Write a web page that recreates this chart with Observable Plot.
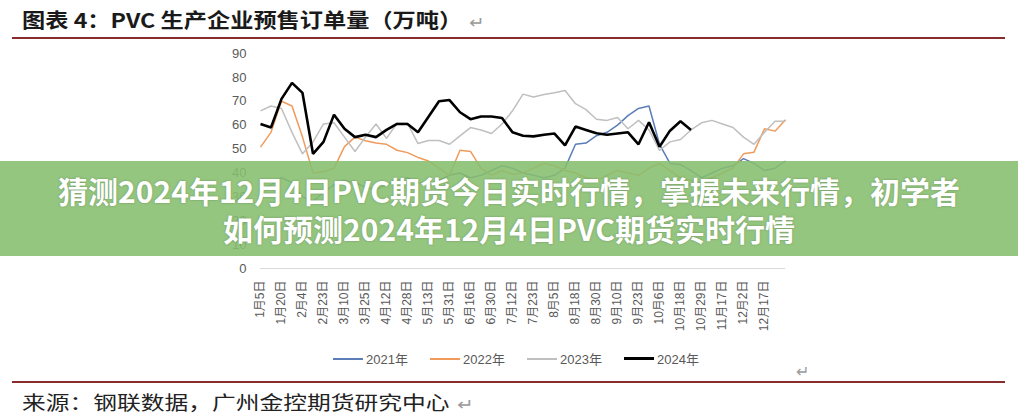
<!DOCTYPE html>
<html><head><meta charset="utf-8">
<script src="https://cdn.jsdelivr.net/npm/d3@7"></script>
<script src="https://cdn.jsdelivr.net/npm/@observablehq/plot@0.6"></script>
<style>
body{margin:0;width:1018px;height:418px;position:relative;overflow:hidden;background:#fff;font-family:"Liberation Sans","Noto Sans CJK SC",sans-serif;}
#title{position:absolute;left:22px;top:5px;font-family:"Noto Sans CJK SC";font-weight:700;font-size:20px;color:#1a1a1a;white-space:nowrap;transform:scaleX(1.16);transform-origin:left center;}
.pm{color:#9a9a9a;font-weight:400;font-size:16px;margin-left:6px;}
.rule{position:absolute;left:12px;width:993px;height:2px;background:#8a2c2c;}
#chart{position:absolute;left:0;top:40px;}
#legend{position:absolute;left:333px;top:349px;display:flex;align-items:center;font-size:13px;color:#595959;font-family:"Liberation Sans","Noto Sans CJK SC",sans-serif;}
#legend .it{display:flex;align-items:center;width:97px;}
#legend .sw{width:30px;margin-right:3px;}
#pm2{position:absolute;left:796px;top:362px;color:#9a9a9a;font-size:16px;}
#source{position:absolute;left:22px;top:388px;font-family:"Noto Sans CJK SC";font-size:19px;color:#222;white-space:nowrap;transform:scaleX(1.25);transform-origin:left center;}
#banner{position:absolute;left:0;top:161px;width:1018px;height:95px;background:rgba(134,190,110,0.88);color:#fff;font-family:"Noto Sans CJK SC";font-weight:700;font-size:30px;line-height:38px;text-align:center;padding-top:10px;box-sizing:border-box;text-shadow:0 0 2px rgba(60,90,50,0.5);}
</style></head>
<body>
<div id="title">图表 4：PVC 生产企业预售订单量（万吨）<span class="pm">↵</span></div>
<div class="rule" style="top:37px"></div>
<div id="chart"></div>
<div id="legend"></div>
<div id="pm2">↵</div>
<div class="rule" style="top:381px"></div>
<div id="source">来源：钢联数据，广州金控期货研究中心<span class="pm">↵</span></div>
<div id="banner">猜测2024年12月4日PVC期货今日实时行情，掌握未来行情，初学者<br>如何预测2024年12月4日PVC期货实时行情</div>
<script>
const xTickLabels = ["1月5日","1月20日","2月4日","2月23日","3月10日","3月25日","4月12日","4月28日","5月13日","5月31日","6月16日","6月30日","7月12日","7月23日","8月5日","8月18日","8月30日","9月10日","9月23日","10月6日","10月18日","10月29日","11月17日","12月2日","12月17日"];
const yTicks = [0,10,20,30,40,50,60,70,80,90];
const seriesNames = ["2021年","2022年","2023年","2024年"];
const seriesColors = ["#5b7db8","#f09a5c","#bfbfbf","#000000"];
const seriesWidths = [1.5,1.5,1.5,2.6];

const v2021 = [33,35,38,36,30,28,32,35,37,36,34,33,35,37,38,36,35,37,39,40,38,39,41,43,42,40,39,38,39,42,52,52.5,55.6,57,60,64,67,68,52,44,43.5,41,38,40,42,43,46,44,41,42,45];
const v2022 = [50.8,57,70,68,55,40,40.5,42,51,55,53.5,52.5,52,49.5,48.5,46.5,45,42,39,49.5,49,42,39,41,39.5,40,42,44,43,41,40,38,37,39,41,40,39,42,44,41,38,37,36,38,40,42,48,48.7,58.5,57.5,62.3];
const v2023 = [66,68,67,57,48,53,60.5,61,55,49,55,60.5,54.5,60.8,60.8,52.3,53.6,53.6,52,55.5,59,58,56.5,60.5,66,73,71.8,72.8,73.6,74.5,69,66.5,62.5,62,63.2,58.5,62,58,49.4,53,54,58,61,62,60.5,59,55,52,57,61.6,61.6];
const v2024 = [60.5,59,71,77.7,73.5,48,53,64.4,58.5,55,56,55,58,60.5,60.5,57,63.5,70,70.5,65.4,62.5,63.6,63.6,63,57,55.6,55.3,56,56.5,51.5,59.4,58,56.6,56,56.5,57,52,61.2,51,57.7,61.6,58];

const allSeries = [v2021, v2022, v2023, v2024];
const nCats = 51;
const labelStep = 2;

const lineMarks = allSeries.map((vals, s) =>
  Plot.lineY(vals.map((v, i) => ({i, v})), {x: "i", y: "v", stroke: seriesColors[s], strokeWidth: seriesWidths[s], strokeLinejoin: "miter", strokeLinecap: "butt"})
);

const chart = Plot.plot({
  width: 1018, height: 300,
  marginLeft: 260, marginRight: 233, marginTop: 13, marginBottom: 72,
  style: {fontFamily: '"Liberation Sans","Noto Sans CJK SC",sans-serif', color: "#595959", background: "transparent"},
  x: {domain: [0, nCats - 1]},
  y: {domain: [0, 90]},
  marks: [
    Plot.ruleY([0], {stroke: "#d9d9d9", strokeWidth: 1}),
    Plot.axisY({ticks: yTicks, tickSize: 0, tickPadding: 14, fontSize: 13, label: null}),
    Plot.axisX({ticks: xTickLabels.map((d, j) => j * labelStep), tickFormat: i => xTickLabels[Math.round(i / labelStep)], tickRotate: -90, tickSize: 0, tickPadding: 12, fontSize: 12, label: null}),
    ...lineMarks
  ]
});
document.getElementById("chart").appendChild(chart);

const leg = document.getElementById("legend");
seriesNames.forEach((n, s) => {
  const it = document.createElement("div"); it.className = "it";
  const sw = document.createElement("div"); sw.className = "sw";
  sw.style.height = (s === 3 ? 3 : 2) + "px"; sw.style.background = seriesColors[s];
  const t = document.createElement("span"); t.textContent = n;
  it.appendChild(sw); it.appendChild(t); leg.appendChild(it);
});
</script>
</body></html>
